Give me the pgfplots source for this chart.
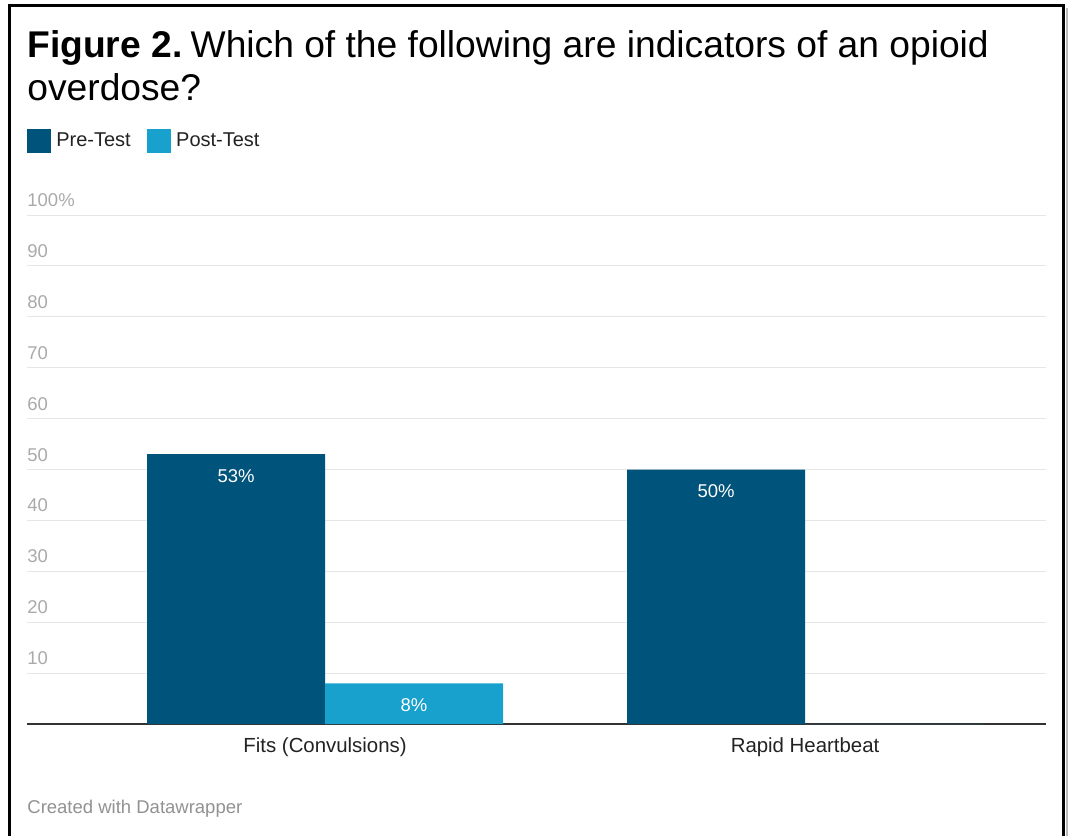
\documentclass[border=0pt]{standalone}
\usepackage{pgfplots}
\pgfplotsset{compat=1.18}
\usepackage{fontspec}
\setmainfont{Liberation Sans}

\definecolor{preC}{RGB}{0,83,122}
\definecolor{postC}{RGB}{24,161,205}
\definecolor{tickC}{RGB}{170,170,170}
\definecolor{gridC}{RGB}{230,230,230}
\definecolor{footC}{RGB}{145,145,145}
\definecolor{baseC}{RGB}{51,51,51}
\definecolor{textC}{RGB}{34,34,34}

\begin{document}
\begin{tikzpicture}[x=0.5pt,y=-0.5pt]
\useasboundingbox (0,0) rectangle (1068,835);
% outer frame, open at the bottom
\draw[black, line width=1.35pt] (9.5,860) -- (9.5,5.5) -- (1063.5,5.5) -- (1063.5,860);
\draw[gray!55, line width=1pt] (1066.5,8) -- (1066.5,860);

% title
\node[anchor=base west, inner sep=0pt, text=black, font=\fontsize{18.6}{22}\selectfont]
  at (27,57) {\textbf{Figure 2.}\hspace{-0.15em} Which of the following are indicators of an opioid};
\node[anchor=base west, inner sep=0pt, text=black, font=\fontsize{18.6}{22}\selectfont]
  at (27,100) {overdose?};

% source line
\node[anchor=base west, inner sep=0pt, text=footC, font=\fontsize{9.25}{11}\selectfont]
  at (27,813) {Created with Datawrapper};

\begin{axis}[
  at={(13.5pt,-362pt)}, anchor=south west,
  scale only axis, width=509.5pt, height=254.5pt,
  xmin=-0.621, xmax=1.502, ymin=0, ymax=100,
  ybar=0pt, bar width=89pt,
  axis x line*=bottom, axis y line*=left,
  x axis line style={baseC, line width=0.9pt, -},
  y axis line style={draw=none},
  major tick length=0pt,
  xtick={0,1},
  xticklabels={Fits (Convulsions), Rapid Heartbeat},
  xticklabel style={anchor=base, inner sep=0pt, text=textC,
    font=\fontsize{10.2}{12}\selectfont, yshift=-14pt},
  ytick={10,20,...,100},
  yticklabels={10,20,30,40,50,60,70,80,90,100\%},
  yticklabel style={anchor=base west, inner sep=0pt, text=tickC,
    font=\fontsize{9.25}{11}\selectfont, yshift=4.25pt},
  ymajorgrids, grid style={gridC, line width=0.5pt},
  legend style={at={(0,1.169)}, anchor=north west, draw=none, fill=none,
    inner sep=0pt, font=\fontsize{10}{12}\selectfont, text=textC,
    nodes={inner xsep=1.25pt, inner ysep=0pt},
    /tikz/every odd column/.append style={column sep=1.2pt},
    /tikz/every even column/.append style={column sep=7pt}},
  legend columns=2, legend cell align=left,
  legend image code/.code={\fill[#1] (0pt,-6pt) rectangle (12pt,6pt);},
  point meta=y,
  nodes near coords={\pgfmathfloatifflags{\pgfplotspointmeta}{0}{}{\pgfmathprintnumber{\pgfplotspointmeta}\%}},
  every node near coord/.append style={anchor=north, inner sep=0pt, text=white,
    font=\fontsize{9.25}{11}\selectfont, yshift=-7.5pt,
    /pgf/number format/assume math mode=true},
]
\addplot[fill=preC, draw=none] coordinates {(0,53) (1,50)};
\addplot[fill=postC, draw=none] coordinates {(0,8) (1,0)};
\legend{Pre-Test, Post-Test}
\end{axis}
\end{tikzpicture}
\end{document}
